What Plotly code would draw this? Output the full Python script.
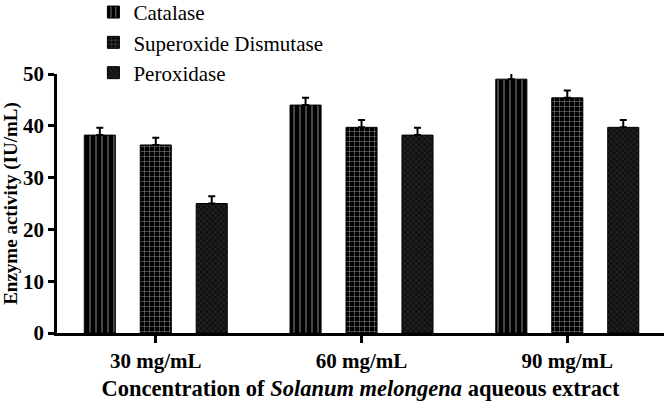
import plotly.graph_objects as go

categories = ["30 mg/mL", "60 mg/mL", "90 mg/mL"]
catalase = [38.2, 44.0, 49.0]
sod = [36.3, 39.7, 45.4]
peroxidase = [25.0, 38.2, 39.7]
catalase_err = [1.4, 1.4, 1.4]
sod_err = [1.4, 1.4, 1.4]
peroxidase_err = [1.4, 1.4, 1.4]
series_names = ["Catalase", "Superoxide Dismutase", "Peroxidase"]

FONT = "Liberation Serif"

patterns = [
    dict(shape="|", bgcolor="black", fgcolor="white", size=6, solidity=0.18),
    dict(shape="+", bgcolor="black", fgcolor="white", size=5, solidity=0.22),
    dict(shape="x", bgcolor="#111", fgcolor="#8a8a8a", size=4, solidity=0.15),
]
values = [catalase, sod, peroxidase]
errors = [catalase_err, sod_err, peroxidase_err]

fig = go.Figure()
for i, name in enumerate(series_names):
    fig.add_trace(go.Bar(
        name=name,
        x=categories, y=values[i],
        legendgroup=f"g{i}",
        marker=dict(color="black", pattern=patterns[i], line=dict(color="black", width=1)),
        error_y=dict(type="data", array=errors[i], arrayminus=[0] * len(errors[i]), symmetric=False,
                     color="black", thickness=2, width=3.5),
        cliponaxis=False,
    ))

fig.update_layout(
    width=664, height=408,
    margin=dict(l=57, r=0, t=74, b=75, autoexpand=False),
    paper_bgcolor="white", plot_bgcolor="white",
    barmode="group", bargap=0.184, bargroupgap=0.445,
    font=dict(family=FONT, color="black"),
    showlegend=True,
    legend=dict(x=0.06, y=1.317, xanchor="left", yanchor="top",
                font=dict(family=FONT, size=21, color="black"),
                tracegroupgap=0, bgcolor="rgba(0,0,0,0)"),
    xaxis=dict(
        range=[-0.48, 2.47],
        showline=True, linecolor="black", linewidth=2.5,
        ticks="outside", ticklen=7, tickwidth=2.5, tickcolor="black",
        tickfont=dict(family=FONT, size=21, color="black", weight="bold"),
        title=dict(text="<b>Concentration of <i>Solanum melongena</i> aqueous extract</b>",
                   font=dict(family=FONT, size=22.5, color="black"), standoff=9),
        showgrid=False, zeroline=False,
    ),
    yaxis=dict(
        range=[0, 50], dtick=10,
        showline=True, linecolor="black", linewidth=2.5,
        ticks="outside", ticklen=6, tickwidth=2.5, tickcolor="black",
        tickfont=dict(family=FONT, size=21, color="black", weight="bold"),
        title=dict(text="<b>Enzyme activity (IU/mL)</b>",
                   font=dict(family=FONT, size=19, color="black"), standoff=2),
        showgrid=False, zeroline=False,
    ),
)

fig.write_html("out.html")
